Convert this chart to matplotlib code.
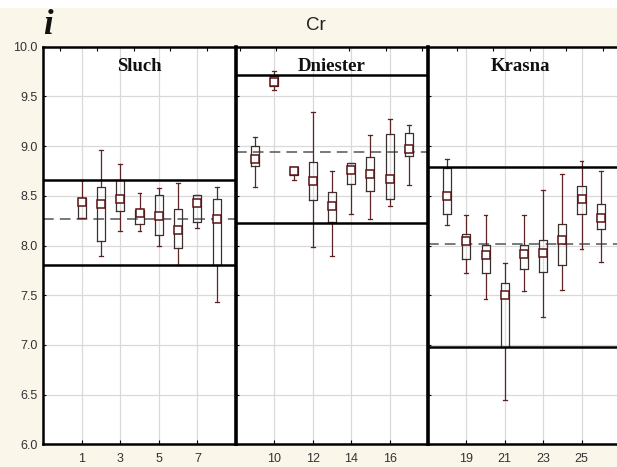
import numpy as np
import matplotlib.pyplot as plt
from matplotlib.patches import Rectangle

# Cr concentrations by sample, three rivers
sluch_pos = [1, 2, 3, 4, 5, 6, 7, 8]
sluch_min = [8.28, 7.89, 8.15, 8.15, 8.00, 7.80, 8.18, 7.43]
sluch_q1 = [8.28, 8.05, 8.35, 8.22, 8.11, 7.97, 8.24, 7.80]
sluch_mid = [8.44, 8.42, 8.47, 8.33, 8.30, 8.16, 8.43, 8.27]
sluch_q3 = [8.48, 8.59, 8.66, 8.36, 8.51, 8.37, 8.51, 8.47]
sluch_max = [8.66, 8.96, 8.82, 8.53, 8.58, 8.63, 8.51, 8.59]

dniester_pos = [9, 10, 11, 12, 13, 14, 15, 16, 17]
dniester_min = [8.59, 9.56, 8.66, 7.98, 7.89, 8.32, 8.27, 8.40, 8.61]
dniester_q1 = [8.80, 9.60, 8.71, 8.46, 8.24, 8.62, 8.55, 8.47, 8.90]
dniester_mid = [8.87, 9.64, 8.75, 8.65, 8.40, 8.76, 8.72, 8.67, 8.97]
dniester_q3 = [9.00, 9.70, 8.79, 8.84, 8.54, 8.83, 8.89, 9.12, 9.13]
dniester_max = [9.09, 9.75, 8.79, 9.34, 8.75, 8.83, 9.11, 9.27, 9.21]

krasna_pos = [18, 19, 20, 21, 22, 23, 24, 25, 26]
krasna_min = [8.21, 7.72, 7.46, 6.45, 7.54, 7.28, 7.55, 7.96, 7.83]
krasna_q1 = [8.32, 7.86, 7.72, 6.98, 7.76, 7.73, 7.80, 8.32, 8.17]
krasna_mid = [8.50, 8.05, 7.90, 7.50, 7.91, 7.92, 8.06, 8.47, 8.28]
krasna_q3 = [8.78, 8.12, 8.01, 7.62, 8.01, 8.06, 8.22, 8.60, 8.42]
krasna_max = [8.87, 8.31, 8.31, 7.82, 8.31, 8.56, 8.72, 8.85, 8.75]

# upper limit, mean, lower limit per river
sluch_lines = [8.66, 8.27, 7.80]
dniester_lines = [9.71, 8.94, 8.23]
krasna_lines = [8.79, 8.02, 6.98]

sluch_ticks = [1, 3, 5, 7]
dniester_ticks = [10, 12, 14, 16]
krasna_ticks = [19, 21, 23, 25]

y_ticks = [6.0, 6.5, 7.0, 7.5, 8.0, 8.5, 9.0, 9.5, 10.0]

bg = '#faf6ea'
fig = plt.figure(figsize=(6.17, 4.67), dpi=100, facecolor=bg)
fig.patches.append(Rectangle((0, 0.983), 1, 0.02, transform=fig.transFigure,
                             facecolor='white', edgecolor='none'))

bot = 0.0482
hgt = 0.8522
panels = [
    ('Sluch', [0.0697, bot, 0.3128, hgt], (-1, 9), 4.0, sluch_pos, sluch_min, sluch_q1,
     sluch_mid, sluch_q3, sluch_max, sluch_lines, sluch_ticks, np.arange(-0.1, 9, 1.9)),
    ('Dniester', [0.3825, bot, 0.3112, hgt], (8, 18), 13.0, dniester_pos, dniester_min,
     dniester_q1, dniester_mid, dniester_q3, dniester_max, dniester_lines, dniester_ticks,
     np.arange(8.2, 18, 1.9)),
    ('Krasna', [0.6937, bot, 0.3063, hgt], (17, 26.85), 21.8, krasna_pos, krasna_min,
     krasna_q1, krasna_mid, krasna_q3, krasna_max, krasna_lines, krasna_ticks,
     np.arange(18.5, 26.8, 1.9)),
]

whisk_col = '#5e2424'
box_col = '#3a3030'

for i, (name, rect, xl, xc, pos, lo, q1, mid, q3, hi, lines, ticks, top_ticks) in enumerate(panels):
    ax = fig.add_axes(rect)
    ax.set_facecolor('white')
    ax.set_xlim(*xl)
    ax.set_ylim(6.0, 10.0)
    ax.set_xticks(ticks)
    ax.set_xticks(top_ticks, minor=True)
    ax.set_yticks(y_ticks)
    ax.grid(True, color='#d9d9d9', linewidth=0.9, zorder=0)
    ax.set_axisbelow(True)

    stats = []
    for j in range(len(pos)):
        stats.append(dict(whislo=lo[j], q1=q1[j], med=mid[j], q3=q3[j], whishi=hi[j],
                          mean=mid[j], fliers=[]))
    ax.bxp(stats, positions=pos, widths=0.42, showmeans=True, manage_ticks=False,
           boxprops=dict(color=box_col, linewidth=0.9),
           whiskerprops=dict(color=whisk_col, linewidth=0.9),
           capprops=dict(color=whisk_col, linewidth=0.9),
           medianprops=dict(linewidth=0),
           capwidths=0.2,
           meanprops=dict(marker='s', markersize=6, markerfacecolor='white',
                          markeredgecolor='#5a1414', markeredgewidth=1.1),
           zorder=3)

    ax.axhline(lines[0], color='black', linewidth=1.8, zorder=4)
    ax.axhline(lines[2], color='black', linewidth=1.8, zorder=4)
    ax.axhline(lines[1], color='#555555', linewidth=1.1, linestyle=(0, (7, 4)), zorder=2)

    ax.text(xc, 9.80, name, ha='center', va='center', fontsize=13.5, fontweight='bold',
            family='Liberation Serif', color='#111111')

    for s in ax.spines.values():
        s.set_linewidth(1.8)
    ax.spines['left'].set_linewidth(2.6 if i > 0 else 1.8)
    if i == 2:
        ax.spines['right'].set_visible(False)

    ax.tick_params(axis='x', which='major', direction='in', length=3, width=0.8,
                   labelsize=9, labelcolor='#333333', pad=6)
    ax.tick_params(axis='x', which='minor', direction='in', length=3, width=0.8,
                   bottom=False, top=True)
    ax.tick_params(axis='y', which='major', direction='in', length=2, width=0.8,
                   labelsize=9, labelcolor='#333333', pad=4)
    for lab in ax.get_xticklabels() + ax.get_yticklabels():
        lab.set_family('Liberation Sans')
    if i == 0:
        ax.set_yticklabels([f'{v:.1f}' for v in y_ticks])
    else:
        ax.set_yticklabels([])

fig.text(0.512, 0.945, 'Cr', ha='center', va='center', fontsize=13.5,
         family='Liberation Sans', color='#222222')
fig.text(0.078, 0.945, 'i', ha='center', va='center', fontsize=25, fontweight='bold',
         fontstyle='italic', family='Liberation Serif', color='#111111')

plt.savefig('out.png', dpi=100, facecolor=bg)
